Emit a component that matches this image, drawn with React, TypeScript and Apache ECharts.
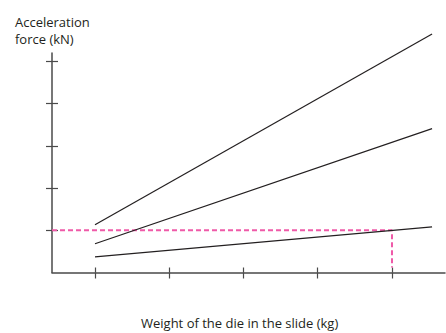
import React, { useEffect, useRef } from "react";
import * as echarts from "echarts";

// Data (x in arbitrary weight units, y in arbitrary force units)
const xTicks = [10, 20, 30, 40, 50];
const yTicks = [1, 2, 3, 4, 5];
const line1: [number, number][] = [[10, 1.13], [55.4, 5.65]];
const line2: [number, number][] = [[10, 0.68], [55.4, 3.41]];
const line3: [number, number][] = [[10, 0.37], [55.4, 1.08]];
const readOff: [number, number][] = [[4.21, 1], [50, 1], [50, 0.12]];
const yTitle = "Acceleration\nforce (kN)";
const xTitle = "Weight of the die in the slide (kg)";

const X_MIN = 4.21;
const X_MAX = 57.14;
const Y_MIN = 0;
const Y_MAX = 5.2;

const FONT = "'Open Sans', 'Noto Sans', sans-serif";
const AXIS_COLOR = "#4a4a4a";
const LINE_COLOR = "#231f20";

export default function App() {
  const ref = useRef<HTMLDivElement>(null);
  useEffect(() => {
    if (!ref.current) return;
    const chart = echarts.init(ref.current, null, { renderer: "svg" });
    const tickStyle = { color: AXIS_COLOR, width: 1.2 };
    const xBase = {
      type: "value" as const,
      min: X_MIN,
      max: X_MAX,
      position: "bottom" as const,
      splitLine: { show: false },
      axisLabel: { show: false },
    };
    const yBase = {
      type: "value" as const,
      min: Y_MIN,
      max: Y_MAX,
      position: "left" as const,
      splitLine: { show: false },
      axisLabel: { show: false },
    };
    chart.setOption({
      animation: false,
      backgroundColor: "#ffffff",
      title: [
        {
          text: yTitle,
          left: 10,
          top: 8,
          textStyle: { fontFamily: FONT, fontSize: 13, fontWeight: "normal", color: LINE_COLOR, lineHeight: 17 },
        },
        {
          text: xTitle,
          left: 136,
          top: 311,
          textStyle: { fontFamily: FONT, fontSize: 13, fontWeight: "normal", color: LINE_COLOR },
        },
      ],
      grid: { left: 52, top: 53, right: 1, bottom: 60.5, containLabel: false },
      xAxis: [
        {
          ...xBase,
          axisLine: { show: true, lineStyle: { color: AXIS_COLOR, width: 1.5 } },
          axisTick: { show: true, inside: false, length: 6, lineStyle: tickStyle, customValues: xTicks },
        },
        {
          ...xBase,
          axisLine: { show: false },
          axisTick: { show: true, inside: true, length: 5, lineStyle: tickStyle, customValues: xTicks },
        },
      ],
      yAxis: [
        {
          ...yBase,
          axisLine: { show: true, lineStyle: { color: AXIS_COLOR, width: 1.5 } },
          axisTick: { show: true, inside: false, length: 6, lineStyle: tickStyle, customValues: yTicks },
        },
        {
          ...yBase,
          axisLine: { show: false },
          axisTick: { show: true, inside: true, length: 6, lineStyle: tickStyle, customValues: yTicks },
        },
      ],
      series: [
        {
          type: "line",
          data: readOff,
          xAxisIndex: 0,
          yAxisIndex: 0,
          symbol: "none",
          clip: false,
          lineStyle: { color: "#ef5aa8", width: 2, type: [5, 3] },
          z: 1,
        },
        ...[line1, line2, line3].map((d) => ({
          type: "line",
          data: d,
          xAxisIndex: 0,
          yAxisIndex: 0,
          symbol: "none",
          clip: false,
          lineStyle: { color: LINE_COLOR, width: 1.2 },
          z: 2,
        })),
      ],
    });
    return () => chart.dispose();
  }, []);
  return (
    <div
      ref={ref}
      style={{ position: "absolute", left: 0, top: 0, width: 446, height: 333 }}
    />
  );
}
